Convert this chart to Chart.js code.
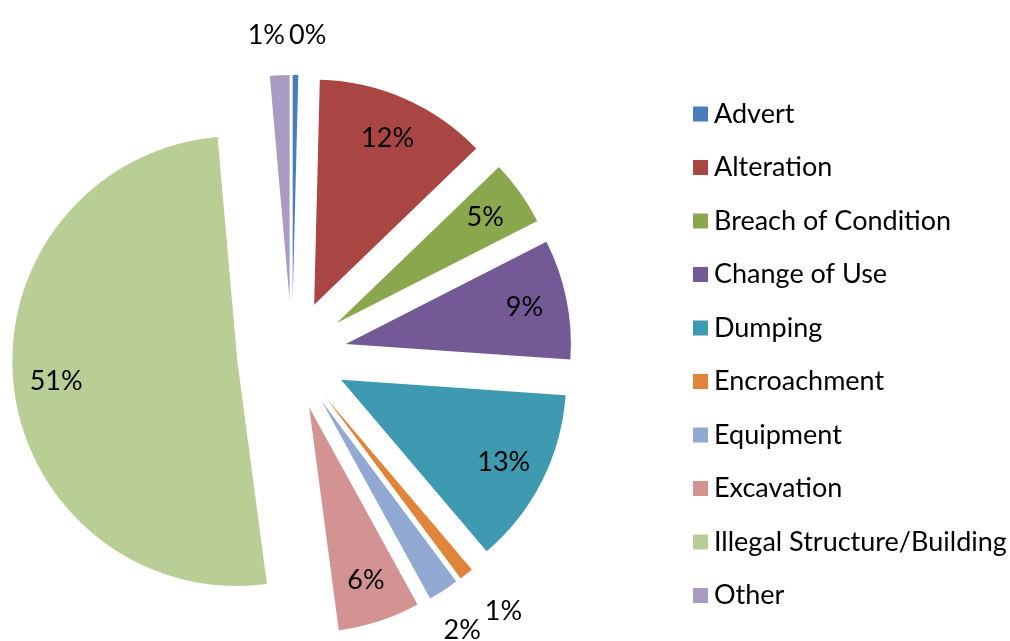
<!DOCTYPE html>
<html>
<head>
<meta charset="utf-8">
<title>Enforcement cases by type</title>
<script src="https://cdn.jsdelivr.net/npm/chart.js@4.4.1/dist/chart.umd.min.js"></script>
<style>
  html, body { margin: 0; padding: 0; background: #fff; }
  .chart { width: 1010px; height: 641px; }
</style>
</head>
<body>
<div class="chart"><canvas id="myChart" width="1010" height="641"></canvas></div>
<script>
const labels = ['Advert', 'Alteration', 'Breach of Condition', 'Change of Use', 'Dumping',
  'Encroachment', 'Equipment', 'Excavation', 'Illegal Structure/Building', 'Other'];
// share of cases, percent
const shares = [0.4, 12.4, 4.7, 8.6, 12.7, 1.0, 2.2, 5.9, 50.7, 1.4];
const colours = ['#4A7EBB', '#A94543', '#8AA74E', '#735995', '#3D9AB1',
  '#E0843A', '#92A9D3', '#D39392', '#B8CE95', '#A99BC2'];

const FONT_SIZE = 27;
const FONT = FONT_SIZE + 'px Lato';
const EXPLODE = 55;

// draw each slice pushed out along its middle angle (excel style explosion)
const explodePlugin = {
  id: 'explode',
  beforeDatasetDraw(chart, args) {
    const ctx = chart.ctx;
    args.meta.data.forEach(arc => {
      const mid = (arc.startAngle + arc.endAngle) / 2;
      ctx.save();
      ctx.translate(Math.cos(mid) * EXPLODE, Math.sin(mid) * EXPLODE);
      arc.draw(ctx);
      ctx.restore();
    });
    return false;
  }
};

const percentPlugin = {
  id: 'percents',
  afterDatasetsDraw(chart) {
    const ctx = chart.ctx;
    const meta = chart.getDatasetMeta(0);
    const values = chart.data.datasets[0].data;
    const total = values.reduce((a, b) => a + b, 0);
    ctx.save();
    ctx.font = FONT;
    ctx.fillStyle = '#000';
    ctx.textAlign = 'center';
    ctx.textBaseline = 'middle';
    const outside = [];
    const placed = meta.data.map((arc, i) => {
      const mid = (arc.startAngle + arc.endAngle) / 2;
      const dx = Math.cos(mid), dy = Math.sin(mid);
      const cx = arc.x + dx * EXPLODE, cy = arc.y + dy * EXPLODE;
      const r = arc.outerRadius;
      const text = Math.round(values[i] / total * 100) + '%';
      const w = ctx.measureText(text).width, h = FONT_SIZE;
      let p;
      if (values[i] / total >= 0.03) {
        p = { x: cx + dx * r * 0.81, y: cy + dy * r * 0.81, text, w, h };
      } else {
        const d = r + 26 + w / 2 * Math.abs(dx) + h / 2 * Math.abs(dy);
        p = { x: cx + dx * d, y: cy + dy * d, text, w, h };
        outside.push(p);
      }
      return p;
    });
    // push overlapping outside labels apart sideways
    for (let a = 0; a < outside.length; a++) {
      for (let b = a + 1; b < outside.length; b++) {
        const p = outside[a], q = outside[b];
        const need = (p.w + q.w) / 2 + 4;
        if (Math.abs(p.y - q.y) < p.h && Math.abs(p.x - q.x) < need) {
          const m = (p.x + q.x) / 2;
          const left = p.x <= q.x ? p : q, right = left === p ? q : p;
          left.x = m - need / 2;
          right.x = m + need / 2;
        }
      }
    }
    placed.forEach(p => ctx.fillText(p.text, p.x, p.y));
    ctx.restore();
  }
};

const legendPlugin = {
  id: 'sideLegend',
  afterDraw(chart) {
    const ctx = chart.ctx;
    ctx.save();
    ctx.font = FONT;
    ctx.textBaseline = 'middle';
    chart.data.labels.forEach((lab, i) => {
      const y = 114 + i * 53.5;
      ctx.fillStyle = chart.data.datasets[0].backgroundColor[i];
      ctx.fillRect(693, y - 7.5, 15, 15);
      ctx.fillStyle = '#000';
      ctx.fillText(lab, 714, y);
    });
    ctx.restore();
  }
};

const myChart = new Chart(document.getElementById('myChart'), {
  type: 'pie',
  data: {
    labels: labels,
    datasets: [{
      data: shares,
      backgroundColor: colours,
      borderWidth: 0
    }]
  },
  options: {
    responsive: false,
    animation: false,
    events: [],
    radius: 225,
    layout: { padding: { left: 0, right: 426, top: 69, bottom: 0 } },
    plugins: {
      legend: { display: false },
      tooltip: { enabled: false }
    }
  },
  plugins: [explodePlugin, percentPlugin, legendPlugin]
});
</script>
</body>
</html>
